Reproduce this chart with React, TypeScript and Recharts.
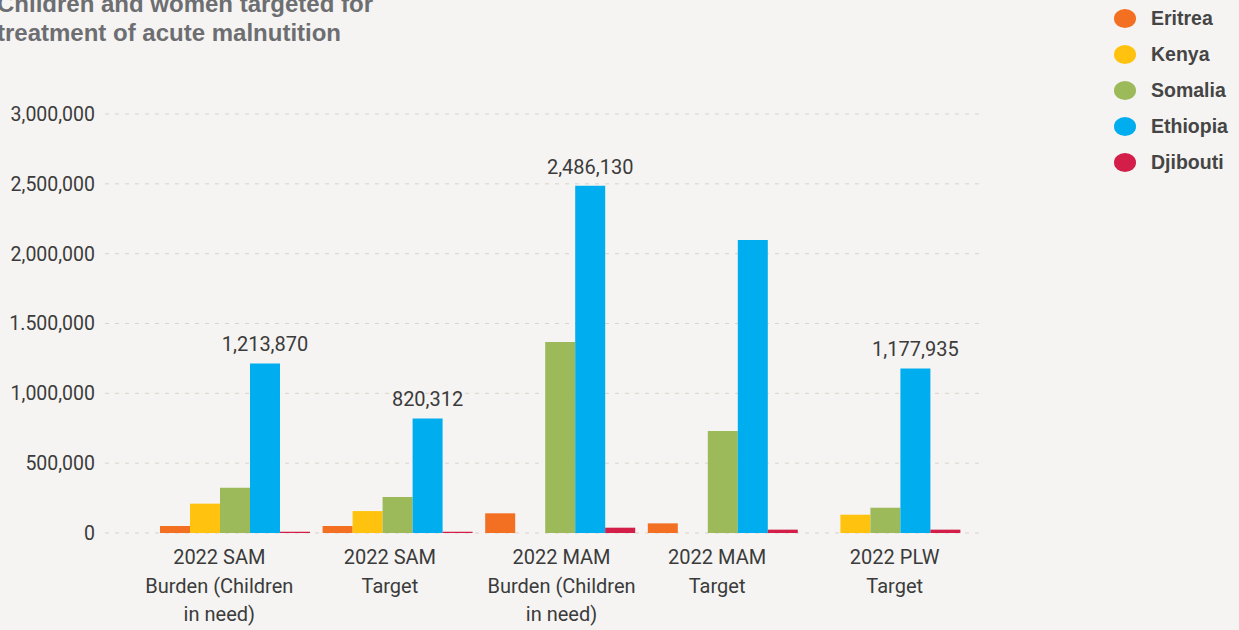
import React from "react"
import { BarChart, Bar, XAxis, YAxis, CartesianGrid, LabelList } from "recharts"

const categories = [
  "2022 SAM\nBurden (Children\nin need)",
  "2022 SAM\nTarget",
  "2022 MAM\nBurden (Children\nin need)",
  "2022 MAM\nTarget",
  "2022 PLW\nTarget",
]

const eritrea = [50000, 50000, 141000, 69000, 0]
const kenya = [210000, 157000, 0, 0, 131000]
const somalia = [324000, 258000, 1367000, 730000, 181000]
const ethiopia = [1213870, 820312, 2486130, 2097000, 1177935]
const djibouti = [9000, 9000, 38000, 24000, 24000]

// which groups get a value label on the Ethiopia bar
const ethiopiaLabelShown = [true, true, true, false, true]

const yTicks = [0, 500000, 1000000, 1500000, 2000000, 2500000, 3000000]
const yTickLabels = ["0", "500,000", "1,000,000", "1.500,000", "2,000,000", "2,500,000", "3,000,000"]

const seriesNames = ["Eritrea", "Kenya", "Somalia", "Ethiopia", "Djibouti"]
const COLORS = ["#f36f21", "#ffc20e", "#9dba5a", "#00adee", "#d21e48"]

const data = categories.map((c, i) => ({
  name: c,
  Eritrea: eritrea[i],
  Kenya: kenya[i],
  Somalia: somalia[i],
  Ethiopia: ethiopia[i],
  Djibouti: djibouti[i],
}))

const FONT = "Roboto, 'Liberation Sans', sans-serif"
const BOLD_FONT = "'Liberation Sans', Arial, sans-serif"
const TEXT_COLOR = "#3b3b3b"
// category labels in the source are not quite centred under their groups
const TICK_NUDGE = [-16, -8, 1, -6, 9]

const CategoryTick = (props: any) => {
  const { x, y, payload, index } = props
  const lines = String(payload.value).split("\n")
  return (
    <g transform={`translate(${x + (TICK_NUDGE[index] || 0)},${y})`}>
      {lines.map((line: string, i: number) => (
        <text
          key={i}
          x={0}
          y={16 + i * 28.5}
          textAnchor="middle"
          dominantBaseline="central"
          fontSize={20}
          fontFamily={FONT}
          fill={TEXT_COLOR}
        >
          {line}
        </text>
      ))}
    </g>
  )
}

const EthiopiaLabel = (props: any) => {
  const { x, y, width, value, index } = props
  if (!ethiopiaLabelShown[index]) return null
  return (
    <text
      x={x + width / 2}
      y={y - 19}
      textAnchor="middle"
      dominantBaseline="central"
      fontSize={20}
      fontFamily={FONT}
      fill={TEXT_COLOR}
    >
      {Number(value).toLocaleString("en-US")}
    </text>
  )
}

export default function App() {
  return (
    <div
      style={{
        position: "absolute",
        top: 0,
        left: 0,
        width: 1239,
        height: 630,
        background: "#f5f4f2",
        overflow: "hidden",
      }}
    >
      <div
        style={{
          position: "absolute",
          left: -3,
          top: -11,
          fontFamily: BOLD_FONT,
          fontWeight: 700,
          fontSize: 24,
          lineHeight: "29px",
          color: "#6d6e71",
        }}
      >
        Children and women targeted for
        <br />
        treatment of acute malnutition
      </div>

      <div style={{ position: "absolute", left: 1114, top: 1 }}>
        {seriesNames.map((name, i) => (
          <div key={name} style={{ display: "flex", alignItems: "center", height: 35.8 }}>
            <span
              style={{
                display: "inline-block",
                width: 22,
                height: 19,
                borderRadius: "50%",
                background: COLORS[i],
                marginRight: 15,
              }}
            />
            <span
              style={{
                fontFamily: BOLD_FONT,
                fontWeight: 700,
                fontSize: 19.5,
                color: "#454545",
              }}
            >
              {name}
            </span>
          </div>
        ))}
      </div>

      <BarChart
        width={1239}
        height={630}
        data={data}
        margin={{ top: 114, right: 257, left: 0, bottom: 7 }}
        barCategoryGap={6}
        barGap={0}
        style={{ position: "absolute", top: 0, left: 0 }}
      >
        <CartesianGrid vertical={false} stroke="#d9d3ca" strokeDasharray="4 6" />
        <XAxis
          dataKey="name"
          axisLine={false}
          tickLine={false}
          height={90}
          interval={0}
          padding={{ left: 49, right: 15 }}
          tick={<CategoryTick />}
        />
        <YAxis
          width={105}
          domain={[0, 3000000]}
          ticks={yTicks}
          axisLine={false}
          tickLine={false}
          tickSize={0}
          tickMargin={10}
          tickFormatter={(v: number) => yTickLabels[yTicks.indexOf(v)]}
          tick={{ fontSize: 19.5, fontFamily: FONT, fill: TEXT_COLOR }}
        />
        {seriesNames.map((name, i) => (
          <Bar key={name} dataKey={name} fill={COLORS[i]} isAnimationActive={false}>
            {name === "Ethiopia" && <LabelList dataKey={name} content={<EthiopiaLabel />} />}
          </Bar>
        ))}
      </BarChart>
    </div>
  )
}
